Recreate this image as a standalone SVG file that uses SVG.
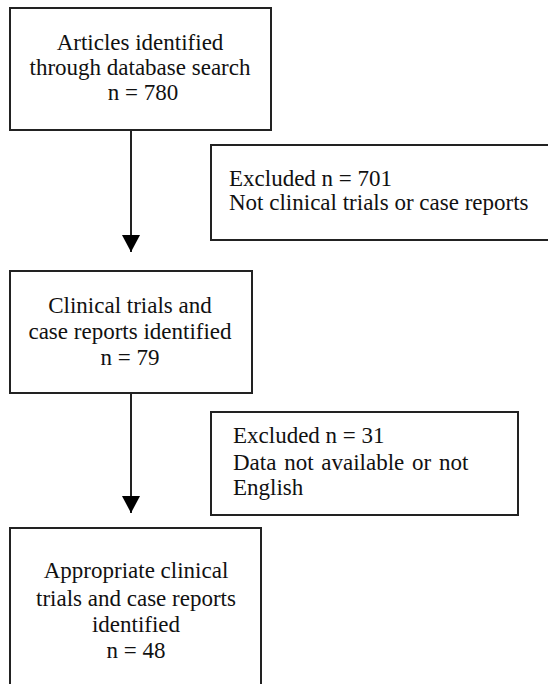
<svg xmlns="http://www.w3.org/2000/svg" width="548" height="684" viewBox="0 0 548 684">
<style>
.box{fill:#fff;stroke:#222;stroke-width:2}
.t{font-family:"Liberation Serif","Times New Roman",serif;font-size:23px;fill:#111}
.c{text-anchor:middle}
.ln{stroke:#222;stroke-width:2;fill:none}
</style>
<defs>
<marker id="ah" markerUnits="userSpaceOnUse" markerWidth="18" markerHeight="18" viewBox="0 0 18 18" refX="17" refY="9" orient="auto">
<path d="M0,0 L17,9 L0,18 Z" fill="#000"/>
</marker>
</defs>
<rect width="548" height="684" fill="#fff"/>
<g id="connectors">
<line class="ln" x1="131" y1="130" x2="131" y2="252" marker-end="url(#ah)"/>
<line class="ln" x1="131" y1="393" x2="131" y2="513" marker-end="url(#ah)"/>
</g>
<g id="n1">
<rect class="box" x="10" y="8" width="261" height="122"/>
<text class="t c" x="140" y="50">Articles identified</text>
<text class="t c" x="140" y="75">through database search</text>
<text class="t c" x="143" y="100">n = 780</text>
</g>
<g id="n2">
<rect class="box" x="211" y="145" width="350" height="95"/>
<text class="t" x="229" y="186">Excluded n = 701</text>
<text class="t" x="229" y="210">Not clinical trials or case reports</text>
</g>
<g id="n3">
<rect class="box" x="10" y="271" width="242" height="122"/>
<text class="t c" x="130" y="313">Clinical trials and</text>
<text class="t c" x="130" y="339">case reports identified</text>
<text class="t c" x="130" y="365">n = 79</text>
</g>
<g id="n4">
<rect class="box" x="211" y="412" width="307" height="103"/>
<text class="t" x="233" y="443">Excluded n = 31</text>
<text class="t" x="233" y="470" word-spacing="2">Data not available or not</text>
<text class="t" x="233" y="495">English</text>
</g>
<g id="n5">
<rect class="box" x="10" y="528" width="251" height="170"/>
<text class="t c" x="136" y="578">Appropriate clinical</text>
<text class="t c" x="136" y="606">trials and case reports</text>
<text class="t c" x="136" y="632">identified</text>
<text class="t c" x="136" y="658">n = 48</text>
</g>
</svg>
